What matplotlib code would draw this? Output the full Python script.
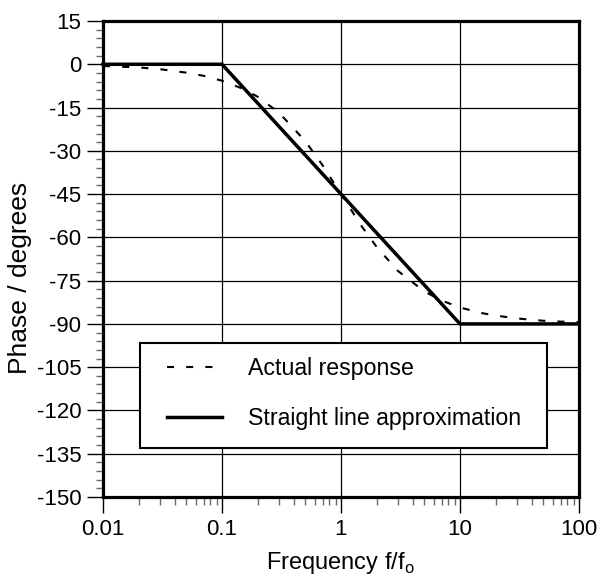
import numpy as np
import matplotlib
matplotlib.use("Agg")
import matplotlib.pyplot as plt
from matplotlib.ticker import FixedLocator, NullFormatter, LogLocator
from matplotlib.patches import Rectangle

plt.rcParams['font.family'] = ['Liberation Sans', 'DejaVu Sans']

# Actual response
actual_f = [0.01, 0.02, 0.03, 0.05, 0.07, 0.1, 0.15, 0.2, 0.3, 0.5, 0.7, 1.0,
            1.5, 2.0, 3.0, 5.0, 7.0, 10.0, 15.0, 20.0, 30.0, 50.0, 70.0, 100.0]
actual_phase = [-0.6, -1.1, -1.7, -2.9, -4.0, -5.7, -8.5, -11.3, -16.7, -26.6, -35.0, -45.0,
                -56.3, -63.4, -71.6, -78.7, -81.9, -84.3, -86.2, -87.1, -88.1, -88.9, -89.2, -89.4]

# Straight line approximation
approx_f = [0.01, 0.1, 10.0, 100.0]
approx_phase = [0.0, 0.0, -90.0, -90.0]

series_labels = ['Actual response', 'Straight line approximation']
x_ticks = [0.01, 0.1, 1, 10, 100]
x_ticklabels = ['0.01', '0.1', '1', '10', '100']
y_ticks = list(range(-150, 16, 15))

W, H = 600, 577
fig = plt.figure(figsize=(W / 100, H / 100), dpi=100)
L, R, T, B = 103, 579, 21, 497
ax = fig.add_axes([L / W, 1 - B / H, (R - L) / W, (B - T) / H])

def ax_x(px):
    return (px - L) / (R - L)

def ax_y(py):
    return (B - py) / (B - T)

ax.set_xscale('log')
ax.set_xlim(0.01, 100)
ax.set_ylim(-150, 15)

dash = (0, (3.4, 5.8))
ax.plot(actual_f, actual_phase, color='black', lw=1.5, ls=dash, label=series_labels[0], zorder=3)
ax.plot(approx_f, approx_phase, color='black', lw=2.5, solid_capstyle='projecting',
        clip_on=False, label=series_labels[1], zorder=4)

ax.set_xticks(x_ticks)
ax.set_xticklabels(x_ticklabels)
ax.xaxis.set_minor_locator(LogLocator(base=10, subs=np.arange(2, 10)))
ax.xaxis.set_minor_formatter(NullFormatter())
ax.set_yticks(y_ticks)
ax.set_yticklabels([str(v) for v in y_ticks])
ax.yaxis.set_minor_locator(FixedLocator([v for v in range(-150, 16, 3) if v % 15 != 0]))

ax.tick_params(which='major', direction='out', length=11.2, width=1.0, labelsize=16, pad=4.3, color='black')
ax.tick_params(which='minor', direction='out', length=5.4, width=1.0, color='#6a6a6a')

ax.grid(True, which='major', color='black', lw=0.9, zorder=1)
ax.set_axisbelow(True)
for s in ax.spines.values():
    s.set_linewidth(2.3)
    s.set_zorder(6)

ax.set_ylabel('Phase / degrees', fontsize=19)
ax.yaxis.set_label_coords(ax_x(32), ax_y(278))
ax.set_xlabel('Frequency f/f$_\\mathregular{o}$', fontsize=17, va='top')
ax.xaxis.set_label_coords(ax_x(340), ax_y(550))

# legend frame (white box covering the grid)
frame = Rectangle((ax_x(140), ax_y(448)), ax_x(547) - ax_x(140), ax_y(343) - ax_y(448),
                  transform=ax.transAxes, facecolor='white', edgecolor='black', lw=1.5, zorder=5)
ax.add_patch(frame)

fs_leg = 16.7
f_px = fs_leg * 100 / 72
row_h = 1.117 * f_px
leg = ax.legend(loc='upper left', bbox_to_anchor=(ax_x(167), ax_y(370 - row_h / 2)),
                frameon=False, fontsize=fs_leg, handlelength=55 / f_px,
                handletextpad=26 / f_px, labelspacing=(53 - row_h) / f_px,
                borderpad=0, borderaxespad=0)
leg.set_zorder(7)

fig.savefig('out.png', dpi=100)
